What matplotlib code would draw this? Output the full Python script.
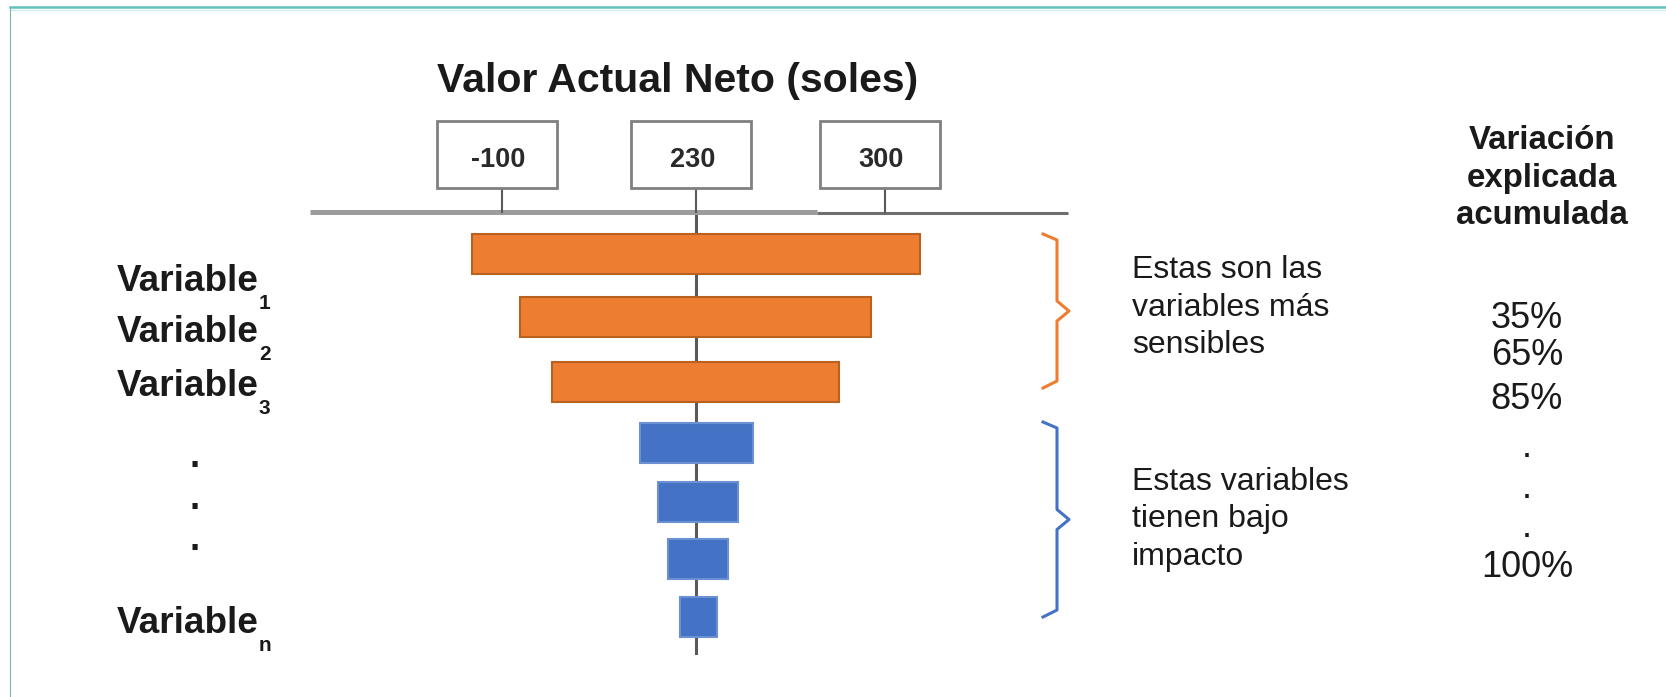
import numpy as np
import matplotlib
matplotlib.use("Agg")
import matplotlib.pyplot as plt
from matplotlib.patches import Rectangle

plt.rcParams['font.family'] = ['Liberation Sans', 'DejaVu Sans']

# Data (schematic tornado chart, swings in px-like units around base value)
var_subs = ['1', '2', '3', 'n']
low_swing = np.array([-224, -176, -144, -56, -38, -28, -16])
high_swing = np.array([224, 175, 143, 57, 42, 32, 21])
sensitive = np.array([True, True, True, False, False, False, False])
tick_labels = ['-100', '230', '300']
tick_vals = [-194.5, 0, 188.5]
cum_var = ['35%', '65%', '85%', '.', '.', '.', '100%']
group_text = [['Estas son las', 'variables más', 'sensibles'],
              ['Estas variables', 'tienen bajo', 'impacto']]
header = ['Variación', 'explicada', 'acumulada']
title = 'Valor Actual Neto (soles)'

W, H = 1666, 697
CX = 696.5  # pixel of the base value line
ORANGE, BLUE = '#ED7D31', '#4472C4'
TXT = '#1a1a1a'

fig = plt.figure(figsize=(W / 100, H / 100), dpi=100)
ax = fig.add_axes([0, 0, 1, 1])
ax.set_xlim(-CX, W - CX)
ax.set_ylim(H, 0)
ax.axis('off')


def px(x):  # figure pixel -> data x
    return x - CX


# frame of the screenshot
ax.plot([px(10), px(W)], [7, 7], color='#63c1bd', lw=1.8)
ax.plot([px(10), px(W)], [9.5, 9.5], color='#cdeeed', lw=1.0)
ax.plot([px(10), px(10)], [7, H], color='#7fb5b5', lw=0.8)

# base line and axis line
ax.plot([0, 0], [212, 653], color='#595959', lw=2.2, zorder=1)
ax.plot([px(310), px(817)], [212, 212], color='#9c9c9c', lw=3.6,
        solid_capstyle='butt', zorder=2)
ax.plot([px(817), px(1068)], [213, 213], color='#6e6e6e', lw=2.2,
        solid_capstyle='butt', zorder=2)

# tick boxes
for v, lab in zip(tick_vals, tick_labels):
    ax.plot([v, v], [188, 212], color='#595959', lw=1.5, zorder=2)
    ax.add_patch(Rectangle((v - 65, 121), 120, 67, facecolor='white',
                           edgecolor='#808080', lw=2, zorder=3))
    ax.text(v - 4, 160, lab, ha='center', va='center', fontsize=19.5,
            fontweight='bold', color='#2a2a2a', zorder=4)

# bars
row_y = [253.5, 317, 381.5, 442.5, 502, 559, 617]
colors = [ORANGE if s else BLUE for s in sensitive]
edges = ['#b9611f' if s else '#6d90d2' for s in sensitive]
ax.barh(row_y, high_swing - low_swing, left=low_swing, height=40,
        color=colors, edgecolor=edges, lw=1.5, zorder=3)

# title
ax.text(px(678), 92, title, ha='center', va='baseline',
        fontsize=29.5, fontweight='bold', color=TXT)

# left labels
for yb, sub in zip([291, 342, 396, 633], var_subs):
    ax.text(px(117), yb, 'Variable', ha='left', va='baseline',
            fontsize=26.6, fontweight='bold', color=TXT)
    ax.text(px(259), yb + 18, sub, ha='left', va='baseline',
            fontsize=15, fontweight='bold', color=TXT)
for yb in [467, 509, 550]:
    ax.text(px(195), yb, '.', ha='center', va='baseline',
            fontsize=26, fontweight='bold', color=TXT)

# brackets
br_x = [px(v) for v in [1043, 1057, 1057, 1069, 1057, 1057, 1043]]
for (top, bot), c in zip([(234, 388), (422, 617)], [ORANGE, BLUE]):
    mid = (top + bot) / 2
    ys = [top, top + 6, mid - 10, mid, mid + 10, bot - 7, bot]
    ax.plot(br_x, ys, color=c, lw=2.2)

# group descriptions
for lines, y0 in zip(group_text, [278, 490]):
    for i, s in enumerate(lines):
        ax.text(px(1132), y0 + 37.5 * i, s, ha='left', va='baseline',
                fontsize=23, color=TXT)

# right column
for i, s in enumerate(header):
    ax.text(px(1542), 149 + 37.5 * i, s, ha='center', va='baseline',
            fontsize=23.8, fontweight='bold', color=TXT)
for s, yb in zip(cum_var, [328, 365, 409, 457, 498, 537, 577]):
    ax.text(px(1527), yb, s, ha='center', va='baseline',
            fontsize=26, color=TXT)

fig.savefig('out.png', dpi=100)
